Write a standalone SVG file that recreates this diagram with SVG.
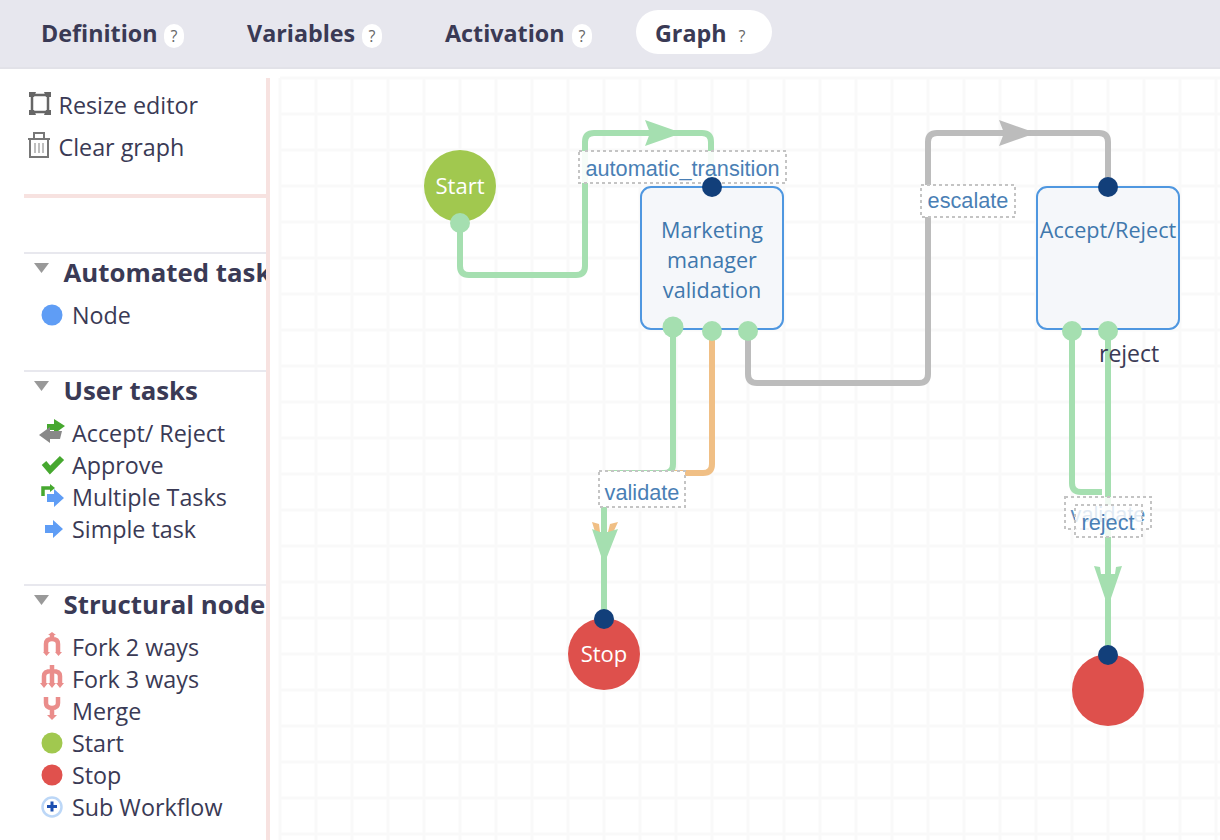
<svg xmlns="http://www.w3.org/2000/svg" width="1220" height="840" viewBox="0 0 1220 840">
<style>
text{font-family:"Open Sans","Noto Sans",sans-serif;fill:#3a3a55}
.tab{font-size:23.300px;font-weight:700}
.h{font-size:25.800px;font-weight:700}
.i{font-size:23.300px}
.q{font-size:16px;fill:#666;text-anchor:middle}
.sep{stroke:#e8e8ee;stroke-width:2}
.pink{fill:#f7e2e0}
.grid{stroke:#f9f9f9;stroke-width:3;fill:none}
.c{fill:none;stroke-width:6;stroke-linejoin:round}
.g{stroke:#a5dfb0}.o{stroke:#f0bf85}.y{stroke:#bcbcbc}
.lb{fill:#fff;stroke:#c4c4c4;stroke-width:2;stroke-dasharray:3 3}
.lt{font-family:"Liberation Sans",Arial,sans-serif;font-size:21.700px;fill:#4a7fb5;text-anchor:middle}
.box{fill:#f5f7fa;stroke:#4f97e0;stroke-width:2}
.nt{font-size:21.600px;fill:#3f78ad;text-anchor:middle}
.w{font-size:22px;fill:#fff;text-anchor:middle}
.pd{fill:#123f7a}.pg{fill:#a5dfb0}
.fork{fill:none;stroke:#ea8d8b;stroke-width:4.500}
.forkf{fill:#ea8d8b}
</style>
<defs><clipPath id="side"><rect x="0" y="70" width="266" height="770"/></clipPath></defs>
<rect width="1220" height="840" fill="#fff"/>
<g id="tabs">
<rect width="1220" height="68" fill="#e7e7ee"/>
<rect x="0" y="67" width="1220" height="2" fill="#e2e2e8"/>
<text class="tab" x="41" y="42">Definition</text>
<rect x="164" y="24" width="20" height="24" rx="10" fill="#fff"/><text class="q" x="174" y="42">?</text>
<text class="tab" x="247" y="42">Variables</text>
<rect x="362" y="24" width="20" height="24" rx="10" fill="#fff"/><text class="q" x="372" y="42">?</text>
<text class="tab" x="445" y="42">Activation</text>
<rect x="572" y="24" width="20" height="24" rx="10" fill="#fff"/><text class="q" x="582" y="42">?</text>
<rect x="636" y="10" width="136" height="44" rx="22" fill="#fff"/>
<text class="tab" x="655" y="42">Graph</text>
<text class="q" x="742" y="42">?</text>
</g>
<g id="grid">
<path class="grid" d="M280 78V840M316 78V840M352 78V840M388 78V840M424 78V840M460 78V840M496 78V840M532 78V840M568 78V840M604 78V840M640 78V840M676 78V840M712 78V840M748 78V840M784 78V840M820 78V840M856 78V840M892 78V840M928 78V840M964 78V840M1000 78V840M1036 78V840M1072 78V840M1108 78V840M1144 78V840M1180 78V840M1216 78V840"/>
<path class="grid" d="M280 78H1220M280 114H1220M280 150H1220M280 186H1220M280 222H1220M280 258H1220M280 294H1220M280 330H1220M280 366H1220M280 402H1220M280 438H1220M280 474H1220M280 510H1220M280 546H1220M280 582H1220M280 618H1220M280 654H1220M280 690H1220M280 726H1220M280 762H1220M280 798H1220M280 834H1220"/>
</g>
<g id="sidebar">
<rect class="pink" x="266" y="78" width="4" height="762"/>
<rect class="pink" x="24" y="194" width="242" height="4"/>
<g fill="none" stroke="#666" stroke-width="2.500">
<rect x="32" y="95" width="16" height="17"/>
<path fill="#666" stroke="none" d="M29 92H36L34 97H29ZM44 92H51V97H46ZM29 110H34L36 115H29ZM46 110H51V115H44Z"/>
<path stroke="#777" stroke-width="2" d="M28 139H50M34 139V133H44V139M30 139V157H48V139"/>
<path stroke="#aaa" stroke-width="1.500" d="M35 143V153M39 143V153M43 143V153"/>
</g>
<text class="i" x="58.500" y="114">Resize editor</text>
<text class="i" x="58.500" y="156">Clear graph</text>
<path class="sep" d="M24 253H266M24 371H266M24 585H266"/>
<path fill="#999" d="M34 263H49L41.500 273Z"/>
<text class="h" x="63.500" y="282" clip-path="url(#side)">Automated task</text>
<circle cx="52" cy="315" r="10.500" fill="#5f9df5"/>
<text class="i" x="72" y="324">Node</text>
<path fill="#999" d="M34 381H49L41.500 391Z"/>
<text class="h" x="63.500" y="400">User tasks</text>
<path fill="#46a82f" d="M47 424H54V419L65 426L54 434V430H47Z"/>
<path fill="#888" d="M62 431H50V427L39 435L50 443V439H60Z"/>
<text class="i" x="72" y="442">Accept/ Reject</text>
<path fill="none" stroke="#46a82f" stroke-width="6" d="M44 463L50 470L62 458"/>
<text class="i" x="72" y="474">Approve</text>
<path fill="none" stroke="#46a82f" stroke-width="3.500" d="M43 496V488H50"/><path fill="#46a82f" d="M50 484L55 488L50 492Z"/>
<path fill="#5f9df5" d="M47 494H54V489L64 498L54 507V502H47Z"/>
<text class="i" x="72" y="506">Multiple Tasks</text>
<path fill="#5f9df5" d="M45 525H53V520L63 529L53 538V533H45Z"/>
<text class="i" x="72" y="538">Simple task</text>
<path fill="#999" d="M34 595H49L41.500 605Z"/>
<text class="h" x="63.500" y="614">Structural node</text>
<path class="fork" d="M46 652V644Q46 639 52 639Q58 639 58 644V652M52 639V634"/><path class="forkf" d="M43 652H50L46.500 656ZM55 652H62L58.500 656ZM48 635L52 632L56 635Z"/>
<text class="i" x="72" y="656">Fork 2 ways</text>
<path class="fork" d="M44 684V676Q44 671 52 671Q60 671 60 676V684M52 665V684"/><path class="forkf" d="M40 683H48L44 688ZM48 683H56L52 688ZM56 683H64L60 688Z"/>
<text class="i" x="72" y="688">Fork 3 ways</text>
<path class="fork" d="M46 697V703Q46 708 52 708Q58 708 58 703V697M52 708V717"/><path class="forkf" d="M47 715H57L52 720Z"/>
<text class="i" x="72" y="720">Merge</text>
<circle cx="52" cy="743" r="10.500" fill="#a1c84f"/>
<text class="i" x="72" y="752">Start</text>
<circle cx="52" cy="775" r="10.500" fill="#e0514d"/>
<text class="i" x="72" y="784">Stop</text>
<circle cx="52" cy="807" r="9.500" fill="#fff" stroke="#bcd7f7" stroke-width="2.500"/>
<path stroke="#1d4fb0" stroke-width="3" d="M47 806.500H57M52 801.500V811.500"/>
<text class="i" x="72" y="816">Sub Workflow</text>
</g>
<g id="connectors">
<path class="c g" d="M460 222V266Q460 275 469 275H576Q585 275 585 266V142Q585 133 594 133H702Q711 133 711 142V188"/>
<path fill="#a5dfb0" d="M645 120L682 133L645 146L650 133Z"/>
<path class="c y" d="M748 331V374Q748 383 757 383H919Q928 383 928 374V142Q928 133 937 133H1099Q1108 133 1108 142V188"/>
<path fill="#bcbcbc" d="M999 120L1036 133L999 146L1004 133Z"/>
<path class="c o" d="M712 331V464Q712 473 703 473H613Q604 473 604 482V560"/>
<path class="c g" d="M673 327V464Q673 473 664 473H613Q604 473 604 482V620"/>
<path fill="#f0bf85" d="M592 522L599 524L600 532H608L610 524L618 522L612 535H596Z"/>
<path fill="#a5dfb0" d="M592 529L600 532L608 532L618 529L605 562H603Z"/>
<path class="c g" d="M1072 331V483Q1072 492 1081 492H1102"/>
<path class="c g" d="M1108 331V655"/>
<path fill="#a5dfb0" d="M1094 566L1100 567L1101 574H1115L1116 567L1122 566L1109 604H1107Z"/>
</g>
<g id="labels">
<rect class="lb" x="579" y="151" width="207" height="32" fill-opacity=".9"/>
<text class="lt" x="682.500" y="176">automatic_transition</text>
<rect class="lb" x="921" y="185" width="94" height="32"/>
<text class="lt" x="968" y="208">escalate</text>
<rect class="lb" x="599" y="471" width="86" height="36"/>
<text class="lt" x="642" y="500">validate</text>
<rect class="lb" x="1065" y="497" width="86" height="32" fill-opacity=".82"/>
<text class="lt" x="1108" y="522" opacity=".9">validate</text>
<rect class="lb" x="1075" y="505" width="67" height="32" fill-opacity=".82"/>
<text class="lt" x="1108" y="530">reject</text>
</g>
<g id="node-start">
<circle cx="460" cy="186" r="36" fill="#a1c84f"/>
<text class="w" x="460" y="194">Start</text>
<circle class="pg" cx="460" cy="223" r="10"/>
</g>
<g id="node-marketing">
<rect class="box" x="641" y="187" width="142" height="142" rx="10"/>
<text class="nt" x="712" y="238">Marketing</text>
<text class="nt" x="712" y="268">manager</text>
<text class="nt" x="712" y="298">validation</text>
<circle class="pd" cx="712" cy="187" r="10"/>
<circle class="pg" cx="673" cy="327" r="10.500"/>
<circle class="pg" cx="712" cy="331" r="10"/>
<circle class="pg" cx="748" cy="331" r="10"/>
</g>
<g id="node-accept">
<rect class="box" x="1037" y="187" width="142" height="142" rx="10"/>
<text class="nt" x="1108" y="238">Accept/Reject</text>
<circle class="pd" cx="1108" cy="187" r="10"/>
<circle class="pg" cx="1072" cy="331" r="10"/>
<circle class="pg" cx="1108" cy="331" r="10"/>
<text x="1099" y="362" font-size="23" fill="#3a3a55">reject</text>
</g>
<g id="node-stop">
<circle cx="604" cy="654" r="36" fill="#de504c"/>
<text class="w" x="604" y="662">Stop</text>
<circle class="pd" cx="604" cy="619" r="10"/>
</g>
<g id="node-stop2">
<circle cx="1108" cy="690" r="36" fill="#de504c"/>
<circle class="pd" cx="1108" cy="655" r="10"/>
</g>
</svg>
